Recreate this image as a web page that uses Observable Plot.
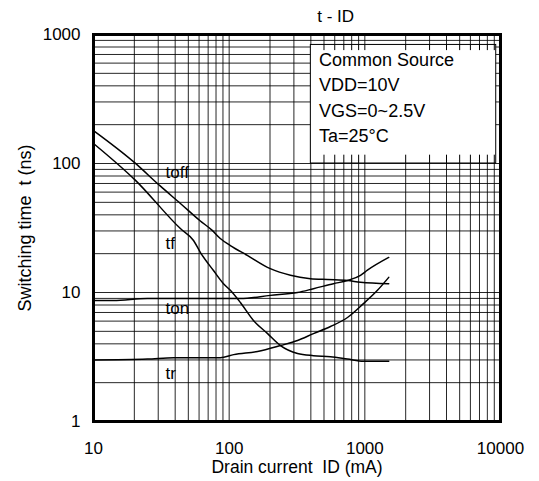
<!DOCTYPE html>
<html>
<head>
<meta charset="utf-8">
<script src="https://cdn.jsdelivr.net/npm/d3@7"></script>
<script src="https://cdn.jsdelivr.net/npm/@observablehq/plot@0.6"></script>
<style>
  html, body { margin: 0; padding: 0; background: #fff; }
</style>
</head>
<body>
<div id="chart"></div>
<script>
// Series (x: drain current ID in mA, y: switching time in ns)
const toffX = [10, 20, 31, 43.7, 61, 75, 86, 102, 136, 201, 283, 397, 530, 745, 929, 1500];
const toffY = [180, 102, 67, 49, 36, 30.3, 26.2, 23.1, 19.4, 15.3, 13.6, 12.8, 12.6, 12.4, 12.0, 11.7];
const tfX = [10, 20.4, 43.7, 54.6, 61.4, 76.6, 90.8, 102, 121, 151, 192, 239, 319, 418, 558, 745, 977, 1500];
const tfY = [143, 74, 31.3, 25.3, 20.4, 14.8, 11.7, 10.4, 8.36, 6.07, 4.8, 3.88, 3.37, 3.24, 3.18, 3.05, 2.93, 2.93];
const tonX = [10, 14, 25, 61, 121, 201, 319, 418, 587, 745, 929, 1045, 1500];
const tonY = [8.67, 8.67, 8.98, 8.98, 8.98, 9.5, 10, 10.7, 11.7, 12.4, 13.6, 14.9, 18.7];
const trX = [10, 25, 39, 86, 108, 162, 239, 319, 418, 558, 745, 977, 1239, 1500];
const trY = [3.0, 3.05, 3.12, 3.12, 3.3, 3.49, 3.88, 4.24, 4.8, 5.45, 6.4, 8.2, 10.4, 13.1];

// Curve labels
const labelNames = ["toff", "tf", "ton", "tr"];
const labelX = [34, 34, 34, 34];
const labelY = [85, 24, 7.5, 2.35];

// Axis ticks
const xTicks = [10, 100, 1000, 10000];
const yTicks = [1, 10, 100, 1000];

// Conditions box text
const boxLines = ["Common Source", "VDD=10V", "VGS=0~2.5V", "Ta=25°C"];
const boxLineY = [629, 403, 253, 162];

const title = "t - ID";
const xLabel = "Drain current\u00a0 ID (mA)";
const yLabel = "Switching time\u00a0 t (ns)";

// Build tables
const toRows = (xs, ys, name) => xs.map((x, i) => ({x, y: ys[i], name}));
const series = [
  ...toRows(toffX, toffY, "toff"),
  ...toRows(tfX, tfY, "tf"),
  ...toRows(tonX, tonY, "ton"),
  ...toRows(trX, trY, "tr")
];
const labels = labelNames.map((n, i) => ({name: n, x: labelX[i], y: labelY[i]}));
const boxText = boxLines.map((t, i) => ({t, y: boxLineY[i]}));

// Log grid positions (1..9 per decade)
const gridX = [];
for (const d of [10, 100, 1000]) for (let k = 1; k <= 9; k++) gridX.push(k * d);
gridX.push(10000);
const gridY = [];
for (const d of [1, 10, 100]) for (let k = 1; k <= 9; k++) gridY.push(k * d);
gridY.push(1000);

// Box extent in data coordinates
const boxX1 = 400, boxX2 = 9300, boxY1 = 100, boxY2 = 830;
const boxGridX = gridX.filter(v => v > boxX1 && v < boxX2);

const font = "'Liberation Sans', Arial, Helvetica, sans-serif";

const chart = Plot.plot({
  width: 539,
  height: 481,
  marginLeft: 93,
  marginRight: 39,
  marginTop: 34,
  marginBottom: 60,
  style: {fontFamily: font, fontSize: "17px", color: "#000", background: "#fff", overflow: "visible"},
  x: {type: "log", domain: [10, 10000]},
  y: {type: "log", domain: [1, 1000]},
  marks: [
    Plot.ruleX(gridX, {stroke: "#000", strokeWidth: 1, strokeOpacity: 0.85}),
    Plot.ruleY(gridY, {stroke: "#000", strokeWidth: 1, strokeOpacity: 0.85}),
    // conditions box
    Plot.rect([{x1: boxX1, x2: boxX2, y1: boxY1, y2: boxY2}], {x1: "x1", x2: "x2", y1: "y1", y2: "y2", fill: "#fff", stroke: "#000", strokeWidth: 1}),
    Plot.ruleX(boxGridX, {y1: boxY1, y2: 116, stroke: "#000", strokeWidth: 1}),
    Plot.ruleX(boxGridX, {y1: 750, y2: boxY2, stroke: "#000", strokeWidth: 1}),
    Plot.text(boxText, {
      x: 460, y: "y", text: "t",
      textAnchor: "start", lineAnchor: "middle", fontSize: 18, fill: "#000"
    }),
    // curves
    Plot.line(series, {x: "x", y: "y", z: "name", stroke: "#000", strokeWidth: 1.5, curve: "monotone-x"}),
    Plot.text(labels, {x: "x", y: "y", text: "name", textAnchor: "start", fontSize: 17, fill: "#000"}),
    Plot.frame({stroke: "#000", strokeWidth: 3}),
    Plot.axisX(xTicks, {tickSize: 0, tickPadding: 20, tickFormat: d => String(d), label: null, fontSize: 17}),
    Plot.axisY(yTicks, {tickSize: 0, tickPadding: 13, tickFormat: d => String(d), label: null, fontSize: 17}),
    // title and axis labels
    Plot.text([title], {x: 610, frameAnchor: "top", dy: -18, textAnchor: "middle", lineAnchor: "middle", fontSize: 17, fill: "#000"}),
    Plot.text([xLabel], {frameAnchor: "bottom", dy: 46, textAnchor: "middle", lineAnchor: "middle", fontSize: 17.5, fill: "#000"}),
    Plot.text([yLabel], {frameAnchor: "left", dx: -68, rotate: -90, textAnchor: "middle", lineAnchor: "middle", fontSize: 18, fill: "#000"})
  ]
});
document.getElementById("chart").appendChild(chart);
</script>
</body>
</html>
